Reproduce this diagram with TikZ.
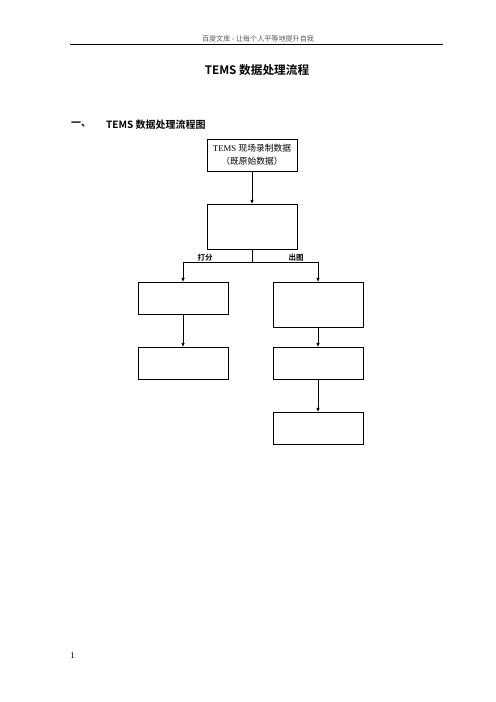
\documentclass[tikz,border=0pt]{standalone}
\usepackage{fontspec}
\setmainfont{Liberation Serif}
\newfontfamily\cjk{Noto Sans CJK SC}
\newfontfamily\cjkb{Noto Sans CJK SC Bold}
\usetikzlibrary{arrows.meta}
\begin{document}
\begin{tikzpicture}[x=1.2pt,y=-1.2pt,
  box/.style={draw,line width=0.8pt,minimum width=108pt,inner sep=0pt,align=center,font=\fontsize{10.5}{15.6}\selectfont},
  flow/.style={line width=0.9pt,-{Triangle[length=4.5pt,width=3.6pt]}},
  plain/.style={line width=0.9pt},
  lab/.style={font=\cjkb\fontsize{9}{10}\selectfont,inner sep=0pt}]
\useasboundingbox (0,0) rectangle (496,702);
% header
\node[font=\cjk\fontsize{8.5}{10}\selectfont,text=black!65,inner sep=0pt] (hdr) at (258,39) {百度文库 - 让每个人平等地提升自我};
\draw[line width=1pt] (70,44.5) coordinate (hl) -- (443,44.5) coordinate (hr);
% title
\node[font=\cjkb\fontsize{14}{16}\selectfont,inner sep=0pt] (title) at (257,70) {TEMS 数据处理流程};
\node[font=\cjkb\fontsize{12}{14}\selectfont,inner sep=0pt,anchor=west] (sec) at (71,125) {一、};
\node[font=\cjkb\fontsize{12}{14}\selectfont,inner sep=0pt,anchor=west] (sect) at (106,125) {TEMS 数据处理流程图};
% boxes
\node[box,minimum height=38.4pt] (b1) at (252,155) {TEMS {\cjk 现场录制数据}\\{\cjk （既原始数据）}};
\node[box,minimum height=54pt] (b2) at (252,226.5) {};
\node[box,minimum height=38.4pt] (b3) at (183,298) {};
\node[box,minimum height=54pt] (b4) at (318,304.5) {};
\node[box,minimum height=38.4pt] (b5) at (183,363) {};
\node[box,minimum height=38.4pt] (b6) at (318,363) {};
\node[box,minimum height=38.4pt] (b7) at (318,428) {};
% connectors
\draw[flow] (b1) -- (b2);
\coordinate (j) at (252,262);
\coordinate (jl) at (183,262);
\coordinate (jr) at (318,262);
\draw[plain] (b2.south) -- (j);
\draw[plain] (jl) -- (jr);
\draw[flow] (jl) -- (b3.north);
\draw[flow] (jr) -- (b4.north);
\draw[flow] (b3) -- (b5);
\draw[flow] (b4) -- (b6);
\draw[flow] (b6) -- (b7);
\node[lab] (l1) at (205,257.5) {打分};
\node[lab] (l2) at (296,257.5) {出图};
% page number
\node[font=\fontsize{10.5}{12}\selectfont,inner sep=0pt] (pg) at (72.5,656) {1};
\end{tikzpicture}
\end{document}
